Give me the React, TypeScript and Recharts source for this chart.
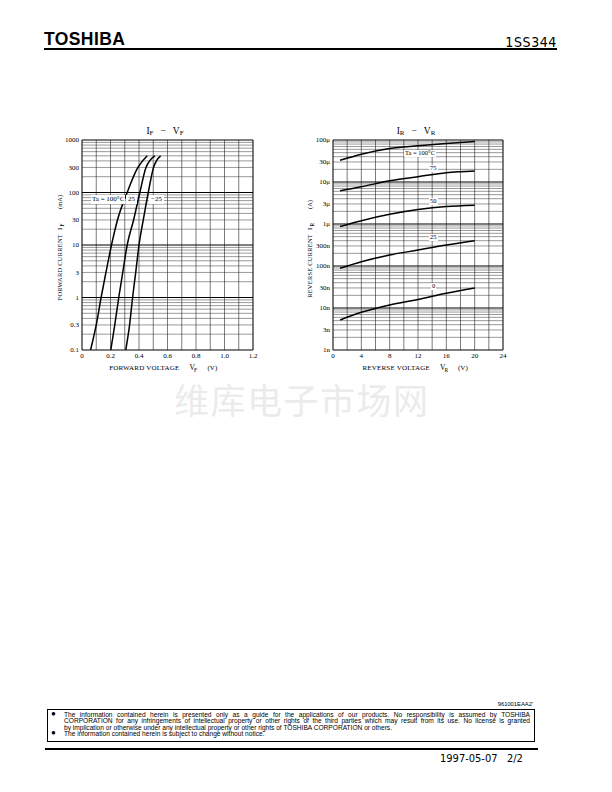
import React from "react"
import { LineChart, Line, XAxis, YAxis, ReferenceLine } from "recharts"

// IF - VF curves (VF in V, IF in mA)
const ifvfHot = [
  { v: 0.06, i: 0.1 }, { v: 0.1, i: 0.3 }, { v: 0.134, i: 1 }, { v: 0.168, i: 3 },
  { v: 0.207, i: 10 }, { v: 0.249, i: 30 }, { v: 0.317, i: 100 }, { v: 0.383, i: 270 },
  { v: 0.458, i: 500 },
]
const ifvfRoom = [
  { v: 0.202, i: 0.1 }, { v: 0.23, i: 0.3 }, { v: 0.258, i: 1 }, { v: 0.286, i: 3 },
  { v: 0.317, i: 10 }, { v: 0.362, i: 30 }, { v: 0.406, i: 100 }, { v: 0.449, i: 300 },
  { v: 0.512, i: 500 },
]
const ifvfCold = [
  { v: 0.307, i: 0.1 }, { v: 0.334, i: 0.3 }, { v: 0.355, i: 1 }, { v: 0.377, i: 3 },
  { v: 0.4, i: 10 }, { v: 0.43, i: 30 }, { v: 0.465, i: 100 }, { v: 0.502, i: 300 },
  { v: 0.552, i: 500 },
]
const ifvfXTicks = [0, 0.2, 0.4, 0.6, 0.8, 1.0, 1.2]
const ifvfYTicks = [0.1, 0.3, 1, 3, 10, 30, 100, 300, 1000]
const ifvfVGrid = [0, 0.1, 0.2, 0.3, 0.4, 0.5, 0.6, 0.7, 0.8, 0.9, 1.0, 1.1, 1.2]
const ifvfDecades = [0.1, 1, 10, 100, 1000]

// IR - VR curves (VR in V, IR in A)
const irvr100 = [
  { v: 1, i: 33e-6 }, { v: 4, i: 46e-6 }, { v: 8, i: 63e-6 }, { v: 12, i: 73e-6 },
  { v: 16, i: 83e-6 }, { v: 20, i: 92e-6 },
]
const irvr75 = [
  { v: 1, i: 6.2e-6 }, { v: 4, i: 7.7e-6 }, { v: 8, i: 10.7e-6 }, { v: 12, i: 13.4e-6 },
  { v: 16, i: 16.7e-6 }, { v: 18, i: 17.6e-6 }, { v: 20, i: 18.3e-6 },
]
const irvr50 = [
  { v: 1, i: 0.87e-6 }, { v: 4, i: 1.2e-6 }, { v: 8, i: 1.7e-6 }, { v: 12, i: 2.2e-6 },
  { v: 16, i: 2.6e-6 }, { v: 20, i: 2.8e-6 },
]
const irvr25 = [
  { v: 1, i: 88e-9 }, { v: 4, i: 126e-9 }, { v: 8, i: 183e-9 }, { v: 12, i: 240e-9 },
  { v: 16, i: 315e-9 }, { v: 20, i: 400e-9 },
]
const irvr0 = [
  { v: 1, i: 5.2e-9 }, { v: 4, i: 7.9e-9 }, { v: 8, i: 11.8e-9 }, { v: 12, i: 16e-9 },
  { v: 16, i: 22.5e-9 }, { v: 20, i: 30e-9 },
]
const irvrXTicks = [0, 4, 8, 12, 16, 20, 24]
const irvrVGrid = [0, 2, 4, 6, 8, 10, 12, 14, 16, 18, 20, 22, 24]
const irvrYTicks = [1e-9, 3e-9, 1e-8, 3e-8, 1e-7, 3e-7, 1e-6, 3e-6, 1e-5, 3e-5, 1e-4]
const irvrYLabels = ["1n", "3n", "10n", "30n", "100n", "300n", "1\u03bc", "3\u03bc", "10\u03bc", "30\u03bc", "100\u03bc"]
const irvrDecades = [1e-9, 1e-8, 1e-7, 1e-6, 1e-5, 1e-4]

const multipliers = [2, 3, 4, 5, 6, 7, 8, 9]

const footerLines = [
  "The information contained herein is presented only as a guide for the applications of our products. No responsibility is assumed by TOSHIBA",
  "CORPORATION for any infringements of intellectual property or other rights of the third parties which may result from its use. No license is granted",
  "by implication or otherwise under any intellectual property or other rights of TOSHIBA CORPORATION or others.",
]
const footerNote = "The information contained herein is subject to change without notice."

const serif = "'Liberation Serif', 'DejaVu Serif', serif"
const tickStyle = { fontSize: 7, fill: "#000", fontFamily: serif }

function minorLines(decades: number[]) {
  const out: number[] = []
  decades.slice(0, -1).forEach((d) => multipliers.forEach((m) => out.push(d * m)))
  return out
}

function Abs({ x, y, children, style }: any) {
  return (
    <div style={{ position: "absolute", left: x, top: y, fontFamily: serif, color: "#000", whiteSpace: "nowrap", lineHeight: 1, ...style }}>
      {children}
    </div>
  )
}

// axis title drawn in SVG as separate pieces: "TEXT   X_s   (unit)"
function axisTitle(text: string, sym: string, sub: string, unit: string, vertical: boolean) {
  return (props: any) => {
    const vb = props.viewBox || {}
    const cx = vertical ? 42 : vb.x + vb.width / 2
    const cy = vertical ? vb.y + vb.height / 2 : vb.y + 20
    const fs = vertical ? 6.5 : 7
    const o = vertical ? { end: 11, sym: 15, sub: 18.5, unit: 36 } : { end: 12, sym: 22, sub: 26.5, unit: 40 }
    return (
      <g transform={vertical ? `rotate(-90 ${cx} ${cy})` : undefined} fontFamily={serif} fill="#000">
        <text x={cx + o.end} y={cy} textAnchor="end" fontSize={fs} letterSpacing={0.2}>{text}</text>
        <text x={cx + o.sym} y={cy} fontSize={fs + 0.5}>{sym}</text>
        <text x={cx + o.sub} y={cy + 1.5} fontSize={5.5}>{sub}</text>
        <text x={cx + o.unit} y={cy} fontSize={fs}>{unit}</text>
      </g>
    )
  }
}

function IfVfChart() {
  return (
    <div style={{ position: "absolute", left: 20, top: 120 }}>
      <LineChart width={250} height={270} margin={{ top: 20, right: 17, bottom: 20, left: 0 }}>
        <XAxis dataKey="v" type="number" domain={[0, 1.2]} ticks={ifvfXTicks} tick={tickStyle}
          tickFormatter={(v: number) => (v === 0 ? "0" : v.toFixed(1))} tickLine={false} axisLine={false}
          tickSize={2} tickMargin={1} height={20} allowDataOverflow
          label={{ content: axisTitle("FORWARD VOLTAGE", "V", "F", "(V)", false) }} />
        <YAxis dataKey="i" type="number" scale="log" domain={[0.1, 1000]} ticks={ifvfYTicks} tick={tickStyle}
          tickFormatter={(v: number) => String(v)} tickLine={false} axisLine={false}
          tickSize={2} tickMargin={1} width={62} allowDataOverflow interval={0}
          label={{ content: axisTitle("FORWARD CURRENT", "I", "F", "(mA)", true) }} />
        {minorLines(ifvfDecades).map((y) => (
          <ReferenceLine key={"h" + y} y={y} stroke="#333" strokeWidth={0.5} />
        ))}
        {ifvfVGrid.map((x) => (
          <ReferenceLine key={"v" + x} x={x} stroke="#222" strokeWidth={x === 0 || x === 1.2 ? 1.2 : 0.6} />
        ))}
        {ifvfDecades.map((y) => (
          <ReferenceLine key={"d" + y} y={y} stroke="#000" strokeWidth={1.2} />
        ))}
        <Line data={ifvfHot} dataKey="i" type="monotone" stroke="#000" strokeWidth={1.5} dot={false} isAnimationActive={false} />
        <Line data={ifvfRoom} dataKey="i" type="monotone" stroke="#000" strokeWidth={1.5} dot={false} isAnimationActive={false} />
        <Line data={ifvfCold} dataKey="i" type="monotone" stroke="#000" strokeWidth={1.5} dot={false} isAnimationActive={false} />
      </LineChart>
    </div>
  )
}

function IrVrChart() {
  return (
    <div style={{ position: "absolute", left: 270, top: 120 }}>
      <LineChart width={250} height={270} margin={{ top: 20, right: 17, bottom: 20, left: 0 }}>
        <XAxis dataKey="v" type="number" domain={[0, 24]} ticks={irvrXTicks} tick={tickStyle}
          tickLine={false} axisLine={false} tickSize={2} tickMargin={1} height={20} allowDataOverflow
          label={{ content: axisTitle("REVERSE VOLTAGE", "V", "R", "(V)", false) }} />
        <YAxis dataKey="i" type="number" scale="log" domain={[1e-9, 1e-4]} ticks={irvrYTicks} tick={tickStyle}
          tickFormatter={(v: number) => irvrYLabels[irvrYTicks.findIndex((t) => Math.abs(t - v) / t < 1e-6)] ?? ""}
          tickLine={false} axisLine={false} tickSize={2} tickMargin={1} width={63} allowDataOverflow interval={0}
          label={{ content: axisTitle("REVERSE CURRENT", "I", "R", "(A)", true) }} />
        {minorLines(irvrDecades).map((y) => (
          <ReferenceLine key={"h" + y} y={y} stroke="#333" strokeWidth={0.5} />
        ))}
        {irvrVGrid.map((x) => (
          <ReferenceLine key={"v" + x} x={x} stroke="#222" strokeWidth={x === 0 || x === 24 ? 1.2 : 0.6} />
        ))}
        {irvrDecades.map((y) => (
          <ReferenceLine key={"d" + y} y={y} stroke="#000" strokeWidth={1.2} />
        ))}
        <Line data={irvr100} dataKey="i" type="monotone" stroke="#000" strokeWidth={1.5} dot={false} isAnimationActive={false} />
        <Line data={irvr75} dataKey="i" type="monotone" stroke="#000" strokeWidth={1.5} dot={false} isAnimationActive={false} />
        <Line data={irvr50} dataKey="i" type="monotone" stroke="#000" strokeWidth={1.5} dot={false} isAnimationActive={false} />
        <Line data={irvr25} dataKey="i" type="monotone" stroke="#000" strokeWidth={1.5} dot={false} isAnimationActive={false} />
        <Line data={irvr0} dataKey="i" type="monotone" stroke="#000" strokeWidth={1.5} dot={false} isAnimationActive={false} />
      </LineChart>
    </div>
  )
}

function Title({ x, sub }: { x: number; sub: string }) {
  return (
    <Abs x={x} y={127} style={{ fontSize: 9.5, transform: "translateX(-50%)" }}>
      I<span style={{ fontSize: 7, position: "relative", top: 1 }}>{sub}</span>
      <span style={{ margin: "0 7px" }}>&minus;</span>
      V<span style={{ fontSize: 7, position: "relative", top: 1 }}>{sub}</span>
    </Abs>
  )
}

export default function App() {
  const footFont = "'Liberation Sans', Arial, sans-serif"
  return (
    <div style={{ position: "absolute", left: 0, top: 0, width: 612, height: 792, background: "#fff", overflow: "hidden" }}>
      {/* header */}
      <Abs x={44} y={31} style={{ fontFamily: "'Liberation Sans', Arial, sans-serif", fontWeight: 700, fontSize: 17.5, letterSpacing: 0.4 }}>TOSHIBA</Abs>
      <Abs x={457} y={35} style={{ width: 100, textAlign: "right", fontFamily: "'DejaVu Sans Condensed', sans-serif", fontSize: 14, letterSpacing: 0.6 }}>1SS344</Abs>
      <div style={{ position: "absolute", left: 44, top: 48, width: 513, height: 2, background: "#000" }} />

      {/* watermark */}
      <Abs x={174} y={381} style={{ fontFamily: "'Noto Sans CJK SC', sans-serif", fontSize: 35, color: "#ebebeb", letterSpacing: 1.5 }}>维库电子市场网</Abs>

      <IfVfChart />
      <IrVrChart />

      <Title x={165} sub="F" />
      <Title x={416} sub="R" />

      {/* curve labels */}
      <Abs x={91} y={195} style={{ fontSize: 7, background: "#fff", padding: "1px 1px" }}>Ta = 100°C</Abs>
      <Abs x={126} y={195} style={{ fontSize: 7, background: "#fff", padding: "1px 2px" }}>25</Abs>
      <Abs x={149} y={195} style={{ fontSize: 7, background: "#fff", padding: "1px 2px" }}>&minus;25</Abs>
      <Abs x={404} y={150} style={{ fontSize: 6.5, background: "#fff", padding: "0 1px" }}>Ta = 100°C</Abs>
      <Abs x={429} y={165} style={{ fontSize: 6.5, background: "#fff", padding: "0 1px" }}>75</Abs>
      <Abs x={429} y={198} style={{ fontSize: 6.5, background: "#fff", padding: "0 1px" }}>50</Abs>
      <Abs x={429} y={234} style={{ fontSize: 6.5, background: "#fff", padding: "0 1px" }}>25</Abs>
      <Abs x={431} y={283} style={{ fontSize: 6.5, background: "#fff", padding: "0 1px" }}>0</Abs>

      {/* footer */}
      <Abs x={433} y={702} style={{ width: 100, textAlign: "right", fontFamily: footFont, fontSize: 5.8 }}>961001EAA2'</Abs>
      <div style={{ position: "absolute", left: 47, top: 709, width: 486, height: 31, border: "1.5px solid #000", boxSizing: "content-box" }}>
        <div style={{ fontFamily: footFont, fontSize: 6.6, lineHeight: "6.4px", padding: "2px 4px 0 4px", position: "relative" }}>
          <span style={{ position: "absolute", left: 3, top: 1, fontSize: 8 }}>●</span>
          <div style={{ marginLeft: 12 }}>
            {footerLines.map((t, k) => (
              <div key={k} style={{ whiteSpace: "nowrap", textAlign: "justify", textAlignLast: k < footerLines.length - 1 ? "justify" : "left" }}>{t}</div>
            ))}
          </div>
          <span style={{ position: "absolute", left: 3, top: 1 + 6.4 * 3, fontSize: 8 }}>●</span>
          <div style={{ marginLeft: 12 }}>{footerNote}</div>
        </div>
      </div>
      <div style={{ position: "absolute", left: 45, top: 748, width: 493, height: 2, background: "#000" }} />
      <Abs x={440} y={753} style={{ fontFamily: "'DejaVu Sans Condensed', 'Liberation Sans Narrow', sans-serif", fontSize: 11 }}>1997-05-07 &nbsp;&nbsp;2/2</Abs>
    </div>
  )
}
